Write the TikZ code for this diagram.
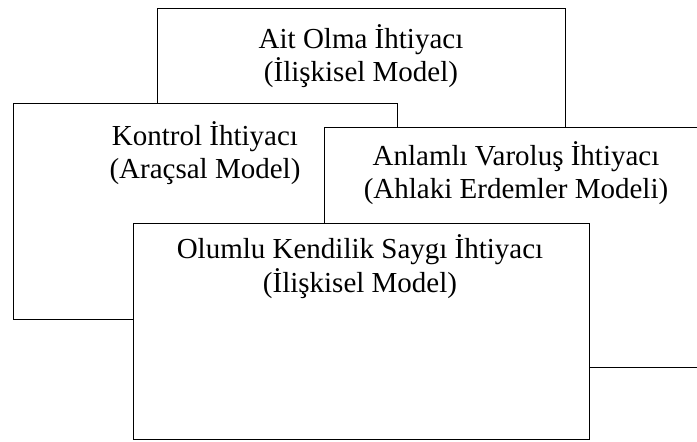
\documentclass[tikz,border=0pt]{standalone}
\usepackage{fontspec}
\setmainfont{Liberation Serif}
\begin{document}
\begin{tikzpicture}[x=1pt,y=-1pt,
  box/.style={draw=black, fill=white, line width=1.3pt, rectangle, anchor=north west, inner sep=0pt},
  txt/.style={anchor=base, inner sep=0pt, font=\fontsize{29}{33}\selectfont}]
\useasboundingbox (0,0) rectangle (697,442);
\clip (0,0) rectangle (697,442);
% Box 1
\node[box, minimum width=408pt, minimum height=250pt] (b1) at (157,7.5) {};
\node[txt] (t1a) at (361,48) {Ait Olma İhtiyacı};
\node[txt] (t1b) at (361,81) {(İlişkisel Model)};
% Box 2
\node[box, minimum width=384.5pt, minimum height=216pt] (b2) at (12.5,103) {};
\node[txt] (t2a) at (205,145) {Kontrol İhtiyacı};
\node[txt] (t2b) at (205,178) {(Araçsal Model)};
% Box 3
\node[box, minimum width=385pt, minimum height=240pt] (b3) at (324,127) {};
\node[txt] (t3a) at (516,165) {Anlamlı Varoluş İhtiyacı};
\node[txt] (t3b) at (516,198) {(Ahlaki Erdemler Modeli)};
% Box 4
\node[box, minimum width=456pt, minimum height=216pt] (b4) at (132.5,223) {};
\node[txt] (t4a) at (360,258) {Olumlu Kendilik Saygı İhtiyacı};
\node[txt] (t4b) at (360,292) {(İlişkisel Model)};
\end{tikzpicture}
\end{document}
